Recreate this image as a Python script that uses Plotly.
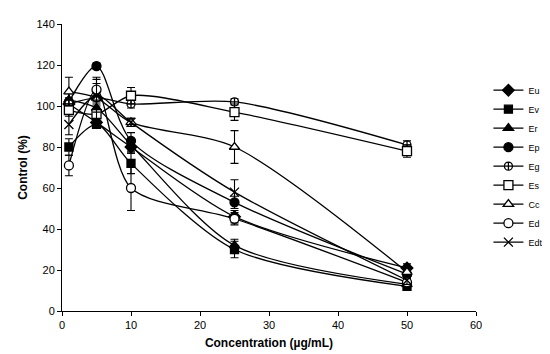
import plotly.graph_objects as go

conc = [1, 5, 10, 25, 50]
names = ["Eu", "Ev", "Er", "Ep", "Eg", "Es", "Cc", "Ed", "Edt"]
Eu = [101, 92, 80, 46, 21]
Ev = [80, 91, 72, 30, 12]
Er = [103, 99, 81, 32, 13]
Ep = [102, 119.5, 83, 53, 18]
Eg = [101, 104, 101, 102, 81]
Es = [98, 96, 105, 97, 78]
Cc = [107, 104, 92, 80, 19]
Ed = [71, 108, 60, 45, 14]
Edt = [91, 105, 92, 58, 15]

Eu_err = [2, 2, 3, 3, 2]
Ev_err = [4, 2, 5, 4, 2]
Er_err = [3, 3, 3, 3, 2]
Ep_err = [2, 1.5, 4, 3, 2]
Eg_err = [2, 3, 2, 1.5, 2]
Es_err = [3, 4, 4, 4, 3]
Cc_err = [7, 10, 2, 8, 2]
Ed_err = [5, 3, 11, 3, 2]
Edt_err = [5, 8, 2, 6, 2]

values = [Eu, Ev, Er, Ep, Eg, Es, Cc, Ed, Edt]
errors = [Eu_err, Ev_err, Er_err, Ep_err, Eg_err, Es_err, Cc_err, Ed_err, Edt_err]
symbols = ["diamond", "square", "triangle-up", "circle", "circle-cross",
           "square", "triangle-up", "circle", "x-thin"]
fills = ["black", "black", "black", "black", "white", "white", "white", "white", "black"]
sizes = [9, 8, 9, 9, 8, 9, 9, 9, 9]

fig = go.Figure()
for n, v, e, s, f, sz in zip(names, values, errors, symbols, fills, sizes):
    fig.add_trace(go.Scatter(
        x=conc, y=v, name=n, mode="lines+markers",
        line=dict(color="black", width=1.3, shape="spline", smoothing=0.8),
        marker=dict(symbol=s, size=sz, color=f,
                    line=dict(color="black", width=1.3)),
        error_y=dict(type="data", array=e, visible=True, color="black",
                     thickness=1.1, width=4),
    ))

font_family = "Liberation Sans, Arial, sans-serif"
fig.update_layout(
    width=550, height=354,
    margin=dict(l=54, r=66, t=10, b=51),
    plot_bgcolor="white", paper_bgcolor="white",
    font=dict(family=font_family, size=11, color="black"),
    showlegend=True,
    legend=dict(x=1.03, y=0.82, xanchor="left", yanchor="top",
                font=dict(size=9), bgcolor="rgba(0,0,0,0)",
                itemwidth=30, tracegroupgap=0),
    xaxis=dict(range=[0, 60], tickvals=[0, 10, 20, 30, 40, 50, 60],
               showline=True, linecolor="black", linewidth=1,
               ticks="outside", ticklen=4, tickcolor="black",
               showgrid=False, zeroline=False,
               title=dict(text="<b>Concentration (µg/mL)</b>", font=dict(size=12), standoff=8)),
    yaxis=dict(range=[0, 140], tickvals=[0, 20, 40, 60, 80, 100, 120, 140],
               showline=True, linecolor="black", linewidth=1,
               ticks="outside", ticklen=4, tickcolor="black",
               showgrid=False, zeroline=False,
               title=dict(text="<b>Control (%)</b>", font=dict(size=12), standoff=6)),
)
fig.write_html("out.html")
